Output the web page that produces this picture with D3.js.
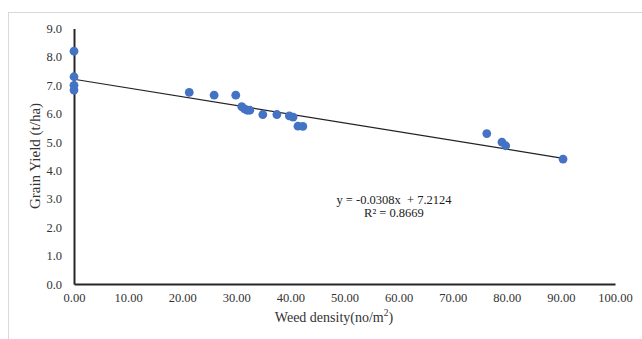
<!DOCTYPE html>
<html><head><meta charset="utf-8">
<script src="https://cdn.jsdelivr.net/npm/d3@7"></script>
<style>body{margin:0;background:#fff}svg{display:block}</style>
</head><body>
<script>
const weedDensity = [0, 0, 0, 0, 21.3, 25.9, 29.9, 31.0, 31.5, 32.0, 32.5, 34.9, 37.5, 39.8, 40.5, 41.4, 42.3, 76.3, 79.1, 79.8, 90.4];
const grainYield  = [8.2, 7.3, 7.0, 6.83, 6.75, 6.65, 6.65, 6.25, 6.17, 6.12, 6.12, 5.97, 5.97, 5.92, 5.88, 5.56, 5.55, 5.3, 5.0, 4.87, 4.4];
const xTicks = [0, 10, 20, 30, 40, 50, 60, 70, 80, 90, 100];
const yTicks = [0, 1, 2, 3, 4, 5, 6, 7, 8, 9];
const slope = -0.0308, intercept = 7.2124;
const eqLines = ["y = -0.0308x  + 7.2124", "R² = 0.8669"];

const W = 642, H = 339;
const svg = d3.select("body").append("svg").attr("width", W).attr("height", H);
svg.append("rect").attr("x", 8.5).attr("y", 12.5).attr("width", 700).attr("height", 400)
  .attr("fill", "none").attr("stroke", "#d9d9d9").attr("stroke-width", 1);

const x = d3.scaleLinear().domain([0, 100]).range([74, 615]);
const y = d3.scaleLinear().domain([0, 9]).range([284, 28.5]);
const font = "'Liberation Serif','Times New Roman',serif";

const xAxis = svg.append("g").attr("transform", "translate(0,284)")
  .call(d3.axisBottom(x).tickValues(xTicks).tickFormat(d3.format(".2f")).tickSize(0).tickPadding(9));
const yAxis = svg.append("g").attr("transform", "translate(74,0)")
  .call(d3.axisLeft(y).tickValues(yTicks).tickFormat(d3.format(".1f")).tickSize(0).tickPadding(12));
[xAxis, yAxis].forEach(g => {
  g.select(".domain").attr("stroke", "#262626").attr("stroke-width", 2);
  g.selectAll("text").attr("font-family", font).attr("font-size", 12.5).attr("fill", "#333");
});

svg.append("line")
  .attr("x1", x(0)).attr("y1", y(intercept))
  .attr("x2", x(d3.max(weedDensity))).attr("y2", y(intercept + slope * d3.max(weedDensity)))
  .attr("stroke", "#222").attr("stroke-width", 1.2);

svg.append("g").selectAll("circle").data(weedDensity).join("circle")
  .attr("cx", d => x(d)).attr("cy", (d, i) => y(grainYield[i])).attr("r", 4.4)
  .attr("fill", "#4472c4");

svg.append("text").attr("x", 394).attr("y", 204).attr("text-anchor", "middle")
  .attr("font-family", font).attr("font-size", 12.5).attr("fill", "#222").style("white-space", "pre")
  .text(eqLines[0]);
svg.append("text").attr("x", 394).attr("y", 217).attr("text-anchor", "middle")
  .attr("font-family", font).attr("font-size", 12.5).attr("fill", "#222")
  .text(eqLines[1]);

svg.append("text").attr("transform", "translate(40,156) rotate(-90)").attr("text-anchor", "middle")
  .attr("font-family", font).attr("font-size", 15).attr("fill", "#333")
  .text("Grain Yield (t/ha)");
const xt = svg.append("text").attr("x", 334).attr("y", 322).attr("text-anchor", "middle")
  .attr("font-family", font).attr("font-size", 14).attr("fill", "#333");
xt.append("tspan").text("Weed density(no/m");
xt.append("tspan").attr("font-size", 9.5).attr("dy", -6).text("2");
xt.append("tspan").attr("dy", 6).text(")");
</script>
</body></html>
